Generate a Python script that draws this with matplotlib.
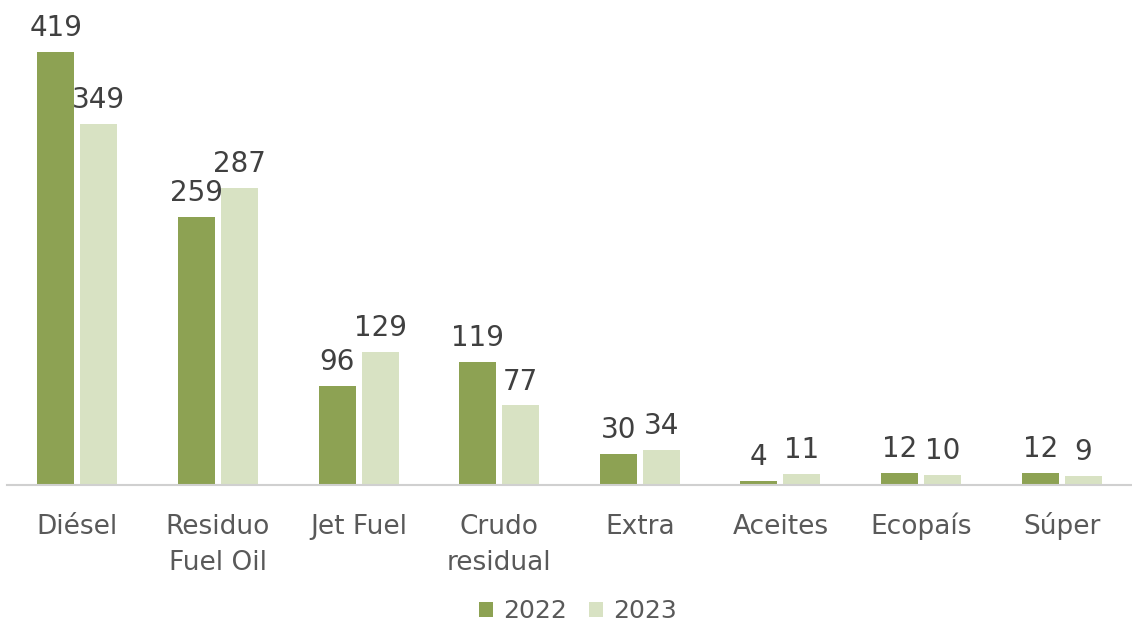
import matplotlib
matplotlib.use("Agg")
import matplotlib.pyplot as plt
import numpy as np

categories = ["Diésel", "Residuo\nFuel Oil", "Jet Fuel", "Crudo\nresidual",
              "Extra", "Aceites", "Ecopaís", "Súper"]
values_2022 = [419, 259, 96, 119, 30, 4, 12, 12]
values_2023 = [349, 287, 129, 77, 34, 11, 10, 9]
series_names = ["2022", "2023"]

color_2022 = "#8da253"
color_2023 = "#d8e2c3"

plt.rcParams["font.family"] = ["DejaVu Sans"]

fig = plt.figure(figsize=(11.32, 6.25), dpi=100)
ax = fig.add_axes([7 / 1132, 140 / 625, 1 - 7 / 1132, 485 / 625])

x = np.arange(len(categories))
w = 0.263
gap = 0.043
off = (w + gap) / 2

b1 = ax.bar(x - off, values_2022, w, color=color_2022, label=series_names[0])
b2 = ax.bar(x + off, values_2023, w, color=color_2023, label=series_names[1])

for bars, vals in ((b1, values_2022), (b2, values_2023)):
    for rect, v in zip(bars, vals):
        ax.annotate(str(v), (rect.get_x() + rect.get_width() / 2, v),
                    xytext=(0, 7), textcoords="offset points",
                    ha="center", va="bottom", fontsize=20, color="#404040")

ax.set_xlim(-0.5, len(categories) - 0.5)
ax.set_ylim(0, 469)
ax.set_yticks([])
ax.set_xticks(x)
ax.set_xticklabels([])
ax.tick_params(axis="x", length=0)

# category names, one line at a time on fixed baselines below the axis
line_offsets = [-35, -61]
for xi, name in zip(x, categories):
    for line, dy in zip(name.split("\n"), line_offsets):
        ax.annotate(line, (xi, 0), xycoords=("data", "axes fraction"),
                    xytext=(0, dy), textcoords="offset points",
                    ha="center", va="baseline", fontsize=19, color="#595959",
                    annotation_clip=False)

for s in ("top", "right", "left"):
    ax.spines[s].set_visible(False)
ax.spines["bottom"].set_color("#d0d0d0")
ax.spines["bottom"].set_linewidth(1.5)

leg = fig.legend(handles=[b1, b2], labels=series_names, loc="center",
                 bbox_to_anchor=(578 / 1132, 14 / 625), ncol=2, frameon=False,
                 fontsize=18, handlelength=0.56, handleheight=0.56,
                 handletextpad=0.4, columnspacing=0.9,
                 borderpad=0, borderaxespad=0)
for t in leg.get_texts():
    t.set_color("#595959")

fig.savefig("out.png", dpi=100)
